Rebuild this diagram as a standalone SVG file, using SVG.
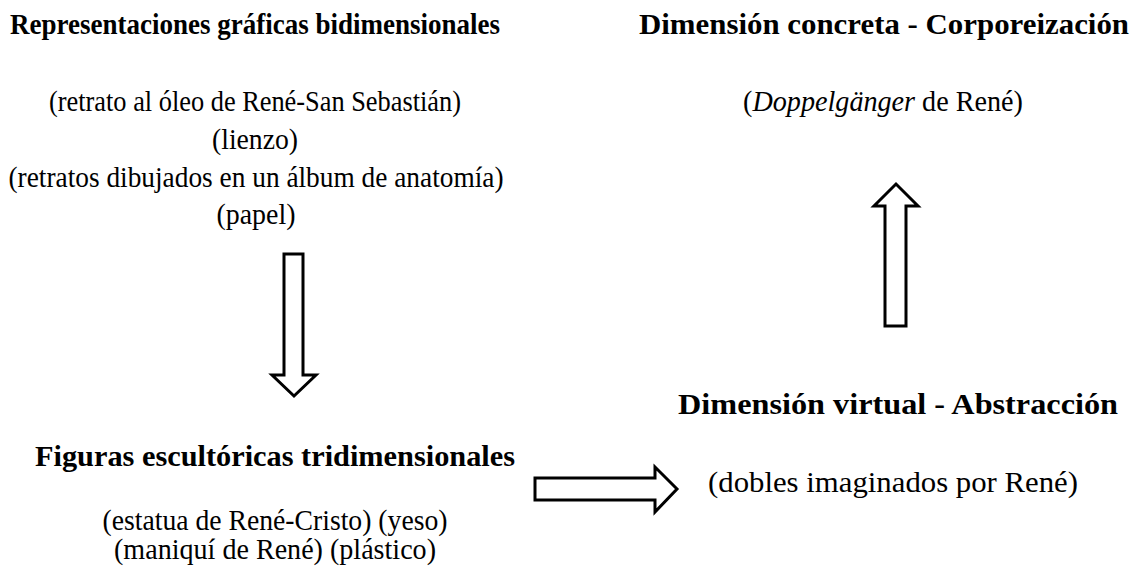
<svg xmlns="http://www.w3.org/2000/svg" width="1140" height="569" viewBox="0 0 1140 569">
<style>
.t{font-family:'Liberation Serif','Times New Roman',serif;font-weight:700;font-size:30px;fill:#000;text-anchor:middle}
.r{font-family:'Liberation Serif','Times New Roman',serif;font-weight:400;font-size:29px;fill:#000;text-anchor:middle}
.a{fill:#fff;stroke:#000;stroke-width:3;stroke-linejoin:miter}
</style>
<rect width="1140" height="569" fill="#fff"/>
<g id="n1">
<text class="t" x="255" y="34" textLength="490" lengthAdjust="spacingAndGlyphs">Representaciones gráficas bidimensionales</text>
<text class="r" x="255" y="111" textLength="412" lengthAdjust="spacingAndGlyphs">(retrato al óleo de René-San Sebastián)</text>
<text class="r" x="255" y="149" textLength="86" lengthAdjust="spacingAndGlyphs">(lienzo)</text>
<text class="r" x="256" y="187" textLength="495" lengthAdjust="spacingAndGlyphs">(retratos dibujados en un álbum de anatomía)</text>
<text class="r" x="256" y="224" textLength="79" lengthAdjust="spacingAndGlyphs">(papel)</text>
</g>
<g id="n2">
<text class="t" x="884" y="34" textLength="490" lengthAdjust="spacingAndGlyphs">Dimensión concreta - Corporeización</text>
<text class="r" x="883" y="111" textLength="280" lengthAdjust="spacingAndGlyphs">(<tspan font-style="italic">Doppelgänger</tspan> de René)</text>
</g>
<g id="n3">
<text class="t" x="275" y="466" textLength="480" lengthAdjust="spacingAndGlyphs">Figuras escultóricas tridimensionales</text>
<text class="r" x="275" y="530" textLength="345" lengthAdjust="spacingAndGlyphs">(estatua de René-Cristo) (yeso)</text>
<text class="r" x="275" y="559" textLength="322" lengthAdjust="spacingAndGlyphs">(maniquí de René) (plástico)</text>
</g>
<g id="n4">
<text class="t" x="898" y="414" textLength="440" lengthAdjust="spacingAndGlyphs">Dimensión virtual - Abstracción</text>
<text class="r" x="893" y="492" textLength="370" lengthAdjust="spacingAndGlyphs">(dobles imaginados por René)</text>
</g>
<g id="connectors">
<polygon class="a" points="284,254 303,254 303,375 316,375 294,396 272,375 284,375"/>
<polygon class="a" points="885,326 906,326 906,206 918,206 896,184 874,206 885,206"/>
<polygon class="a" points="535,478 655,478 655,467 677,489 655,512 655,500 535,500"/>
</g>
</svg>
